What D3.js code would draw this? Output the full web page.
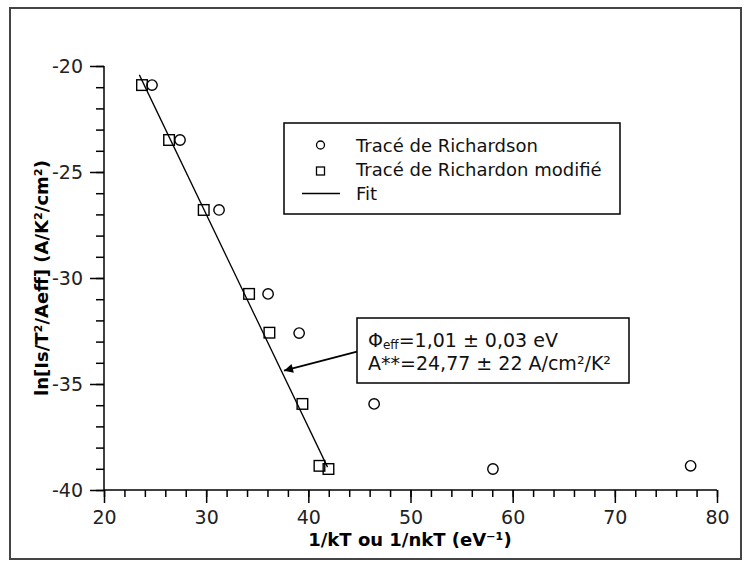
<!DOCTYPE html>
<html><head><meta charset="utf-8">
<script src="https://cdn.jsdelivr.net/npm/d3@7"></script>
<style>body{margin:0;background:#fff}svg{display:block;font-family:"DejaVu Sans",sans-serif}</style>
</head><body><svg id="c" width="750" height="567"></svg>
<script>
const richX = [24.7, 27.44, 31.26, 36.06, 39.1, 46.44, 58.07, 77.42];
const richY = [-20.9, -23.49, -26.79, -30.75, -32.6, -35.94, -39.01, -38.86];
const modX = [23.72, 26.37, 29.76, 34.2, 36.19, 39.42, 41.09, 41.97];
const modY = [-20.9, -23.49, -26.79, -30.75, -32.58, -35.94, -38.86, -39.01];
const fitX = [23.46, 41.88];
const fitY = [-20.42, -38.92];
const xTicks = [20, 30, 40, 50, 60, 70, 80];
const yTicks = [-40, -35, -30, -25, -20];
const legendLabels = ["Tracé de Richardson", "Tracé de Richardon modifié", "Fit"];
const xTitle = "1/kT ou 1/nkT (eV⁻¹)";
const yTitle = "ln[Is/T²/Aeff] (A/K²/cm²)";

const svg = d3.select("#c");
svg.append("rect").attr("x",10).attr("y",8).attr("width",731).attr("height",551)
  .attr("fill","#fff").attr("stroke","#444").attr("stroke-width",2);

const x = d3.scaleLinear().domain([20,80]).range([104,717]);
const y = d3.scaleLinear().domain([-40,-20]).range([490,66]);

// x axis
const gx = svg.append("g").attr("transform","translate(0,490)");
gx.call(d3.axisBottom(x).tickValues(d3.range(20,81,2)).tickSize(7).tickFormat(""))
  .call(g=>g.select(".domain").remove());
gx.append("g").call(d3.axisBottom(x).tickValues(xTicks).tickSize(13).tickPadding(8).tickFormat(d3.format("d")))
  .call(g=>g.select(".domain").remove());
gx.append("line").attr("x1",x(20)).attr("x2",x(80)).attr("stroke","#000").attr("stroke-width",1.5);
gx.selectAll("line").attr("stroke","#000").attr("stroke-width",1.5);
gx.selectAll("text").attr("font-size",19).attr("fill","#222").attr("font-family","DejaVu Sans");

// y axis
const gy = svg.append("g").attr("transform","translate(104,0)");
gy.call(d3.axisLeft(y).tickValues(d3.range(-40,-19,1)).tickSize(8).tickFormat(""))
  .call(g=>g.select(".domain").remove());
gy.append("g").call(d3.axisLeft(y).tickValues(yTicks).tickSize(14).tickPadding(7).tickFormat(d=>d3.format("d")(d).replace("−","-")))
  .call(g=>g.select(".domain").remove());
gy.append("line").attr("y1",y(-40)).attr("y2",y(-20)).attr("stroke","#000").attr("stroke-width",1.5);
gy.selectAll("line").attr("stroke","#000").attr("stroke-width",1.5);
gy.selectAll("text").attr("font-size",19).attr("fill","#222").attr("font-family","DejaVu Sans");

// titles
svg.append("text").attr("x",410).attr("y",546).attr("text-anchor","middle")
  .attr("font-size",18).attr("font-weight","bold").text(xTitle);
svg.append("text").attr("transform","translate(48,278) rotate(-90)").attr("text-anchor","middle")
  .attr("font-size",18).attr("font-weight","bold").text(yTitle);

// fit line
svg.append("path").datum(d3.zip(fitX,fitY))
  .attr("d", d3.line().x(d=>x(d[0])).y(d=>y(d[1])))
  .attr("fill","none").attr("stroke","#000").attr("stroke-width",1.3);

// markers
svg.append("g").selectAll("circle").data(d3.zip(richX,richY)).join("circle")
  .attr("cx",d=>x(d[0])).attr("cy",d=>y(d[1])).attr("r",5.2)
  .attr("fill","none").attr("stroke","#000").attr("stroke-width",1.4);
svg.append("g").selectAll("rect").data(d3.zip(modX,modY)).join("rect")
  .attr("x",d=>x(d[0])-5.3).attr("y",d=>y(d[1])-5.3).attr("width",10.6).attr("height",10.6)
  .attr("fill","none").attr("stroke","#000").attr("stroke-width",1.4);

// legend
const lg = svg.append("g");
lg.append("rect").attr("x",284).attr("y",123).attr("width",336).attr("height",91)
  .attr("fill","#fff").attr("stroke","#000").attr("stroke-width",1.5);
lg.append("circle").attr("cx",320.5).attr("cy",145).attr("r",4).attr("fill","none").attr("stroke","#000").attr("stroke-width",1.3);
lg.append("rect").attr("x",316.5).attr("y",167).attr("width",8).attr("height",8).attr("fill","none").attr("stroke","#000").attr("stroke-width",1.3);
lg.append("line").attr("x1",302).attr("x2",340).attr("y1",193.5).attr("y2",193.5).attr("stroke","#000").attr("stroke-width",1.3);
lg.selectAll("text.l").data(legendLabels).join("text").attr("class","l")
  .attr("x",356).attr("y",(d,i)=>152+i*24).attr("font-size",18).attr("fill","#111").text(d=>d);

// annotation
svg.append("defs").append("marker").attr("id","ah").attr("viewBox","0 0 10 10")
  .attr("refX",10).attr("refY",5).attr("markerWidth",13).attr("markerHeight",9)
  .attr("markerUnits","userSpaceOnUse").attr("orient","auto")
  .append("path").attr("d","M0,0L10,5L0,10z").attr("fill","#000");
svg.append("line").attr("x1",357).attr("y1",351.7).attr("x2",284).attr("y2",370.7)
  .attr("stroke","#000").attr("stroke-width",1.8).attr("marker-end","url(#ah)");
svg.append("rect").attr("x",357).attr("y",318).attr("width",272).attr("height",65)
  .attr("fill","#fff").attr("stroke","#000").attr("stroke-width",1.5);
const t1 = svg.append("text").attr("x",368).attr("y",347).attr("font-size",19).attr("fill","#111");
t1.append("tspan").text("Φ");
t1.append("tspan").attr("font-size",12).attr("dy",2).text("eff");
t1.append("tspan").attr("dy",-2).text("=1,01 ± 0,03 eV");
svg.append("text").attr("x",368).attr("y",370).attr("font-size",19).attr("fill","#111").text("A**=24,77 ± 22 A/cm²/K²");
</script></body></html>
